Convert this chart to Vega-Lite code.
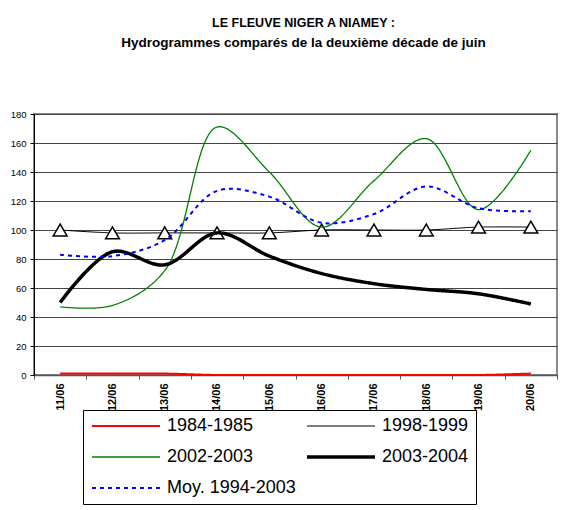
{
  "$schema": "https://vega.github.io/schema/vega-lite/v6.json",
  "autosize": {"type": "none"},
  "width": 523,
  "height": 261,
  "padding": {"left": 34, "top": 114, "right": 23, "bottom": 135},
  "background": "white",
  "title": {
    "text": "LE FLEUVE NIGER A NIAMEY :",
    "subtitle": "Hydrogrammes comparés de la deuxième décade de juin",
    "anchor": "middle",
    "dx": 8,
    "offset": 60,
    "font": "Liberation Sans",
    "fontSize": 12.5,
    "fontWeight": "bold",
    "color": "#000",
    "subtitleFont": "Liberation Sans",
    "subtitleFontSize": 13.5,
    "subtitleFontWeight": "bold",
    "subtitleColor": "#000",
    "subtitlePadding": 6
  },
  "data": {
    "values": [
      {"day": 1, "series": "1984-1985", "value": 1},
      {"day": 2, "series": "1984-1985", "value": 1},
      {"day": 3, "series": "1984-1985", "value": 1},
      {"day": 4, "series": "1984-1985", "value": 0},
      {"day": 5, "series": "1984-1985", "value": 0},
      {"day": 6, "series": "1984-1985", "value": 0},
      {"day": 7, "series": "1984-1985", "value": 0},
      {"day": 8, "series": "1984-1985", "value": 0},
      {"day": 9, "series": "1984-1985", "value": 0},
      {"day": 10, "series": "1984-1985", "value": 1},
      {"day": 1, "series": "1998-1999", "value": 100},
      {"day": 2, "series": "1998-1999", "value": 98},
      {"day": 3, "series": "1998-1999", "value": 98},
      {"day": 4, "series": "1998-1999", "value": 98},
      {"day": 5, "series": "1998-1999", "value": 98},
      {"day": 6, "series": "1998-1999", "value": 100},
      {"day": 7, "series": "1998-1999", "value": 100},
      {"day": 8, "series": "1998-1999", "value": 100},
      {"day": 9, "series": "1998-1999", "value": 102},
      {"day": 10, "series": "1998-1999", "value": 102},
      {"day": 1, "series": "2002-2003", "value": 47},
      {"day": 2, "series": "2002-2003", "value": 48},
      {"day": 3, "series": "2002-2003", "value": 72},
      {"day": 4, "series": "2002-2003", "value": 171},
      {"day": 5, "series": "2002-2003", "value": 140},
      {"day": 6, "series": "2002-2003", "value": 102},
      {"day": 7, "series": "2002-2003", "value": 134},
      {"day": 8, "series": "2002-2003", "value": 163},
      {"day": 9, "series": "2002-2003", "value": 114},
      {"day": 10, "series": "2002-2003", "value": 155},
      {"day": 1, "series": "2003-2004", "value": 50},
      {"day": 2, "series": "2003-2004", "value": 85},
      {"day": 3, "series": "2003-2004", "value": 76},
      {"day": 4, "series": "2003-2004", "value": 98},
      {"day": 5, "series": "2003-2004", "value": 82},
      {"day": 6, "series": "2003-2004", "value": 70},
      {"day": 7, "series": "2003-2004", "value": 63},
      {"day": 8, "series": "2003-2004", "value": 59},
      {"day": 9, "series": "2003-2004", "value": 56},
      {"day": 10, "series": "2003-2004", "value": 49},
      {"day": 1, "series": "Moy. 1994-2003", "value": 83},
      {"day": 2, "series": "Moy. 1994-2003", "value": 82},
      {"day": 3, "series": "Moy. 1994-2003", "value": 93},
      {"day": 4, "series": "Moy. 1994-2003", "value": 127},
      {"day": 5, "series": "Moy. 1994-2003", "value": 123},
      {"day": 6, "series": "Moy. 1994-2003", "value": 105},
      {"day": 7, "series": "Moy. 1994-2003", "value": 111},
      {"day": 8, "series": "Moy. 1994-2003", "value": 130},
      {"day": 9, "series": "Moy. 1994-2003", "value": 115},
      {"day": 10, "series": "Moy. 1994-2003", "value": 113}
    ]
  },
  "encoding": {
    "x": {
      "field": "day",
      "type": "quantitative",
      "scale": {"domain": [0.5, 10.5], "nice": false, "zero": false},
      "axis": {
        "title": null,
        "values": [0.5, 1.5, 2.5, 3.5, 4.5, 5.5, 6.5, 7.5, 8.5, 9.5, 10.5],
        "labelExpr": "datum.value < 10 ? (datum.value + 10.5) + '/06' : ''",
        "labelOffset": 26,
        "labelAngle": 270,
        "labelAlign": "right",
        "labelBaseline": "middle",
        "labelFont": "Liberation Sans",
        "labelFontSize": 11,
        "labelFontWeight": "bold",
        "labelColor": "#000",
        "labelPadding": 4,
        "labelFlush": false,
        "labelOverlap": false,
        "grid": false,
        "domainColor": "#555",
        "domainWidth": 1.5,
        "tickColor": "#555",
        "tickSize": 4,
        "tickWidth": 1
      }
    },
    "y": {
      "field": "value",
      "type": "quantitative",
      "scale": {"domain": [0, 180], "nice": false},
      "axis": {
        "title": null,
        "values": [0, 20, 40, 60, 80, 100, 120, 140, 160, 180],
        "labelFont": "Liberation Sans",
        "labelFontSize": 9.5,
        "labelColor": "#000",
        "labelPadding": 4,
        "labelFlush": false,
        "grid": true,
        "gridColor": "#444",
        "gridWidth": 1,
        "domainColor": "#000",
        "domainWidth": 1,
        "tickColor": "#000",
        "tickSize": 4
      }
    },
    "color": {
      "field": "series",
      "type": "nominal",
      "scale": {
        "domain": ["1984-1985", "1998-1999", "2002-2003", "2003-2004", "Moy. 1994-2003"],
        "range": ["#ff0000", "#000000", "#008000", "#000000", "#0000ff"]
      },
      "legend": {
        "orient": "none",
        "legendX": 49,
        "legendY": 296,
        "direction": "horizontal",
        "columns": 2,
        "columnPadding": 9,
        "rowPadding": 13,
        "symbolSize": 4624,
        "symbolType": "stroke",
        "clipHeight": 18,
        "symbolOffset": 0,
        "labelFont": "Liberation Sans",
        "labelFontSize": 18,
        "labelColor": "#000",
        "labelOffset": 5,
        "labelLimit": 300,
        "padding": 7,
        "strokeColor": "#000",
        "fillColor": "#fff",
        "title": null
      }
    },
    "strokeDash": {
      "field": "series",
      "type": "nominal",
      "scale": {
        "domain": ["1984-1985", "1998-1999", "2002-2003", "2003-2004", "Moy. 1994-2003"],
        "range": [[1, 0], [1, 0], [1, 0], [1, 0], [4, 4]]
      },
      "legend": {"orient": "none", "legendX": 49, "legendY": 296, "direction": "horizontal", "columns": 2, "title": null}
    },
    "strokeWidth": {
      "field": "series",
      "type": "nominal",
      "scale": {
        "type": "ordinal",
        "domain": ["1984-1985", "1998-1999", "2002-2003", "2003-2004", "Moy. 1994-2003"],
        "range": [2, 1, 1.3, 3.5, 2]
      },
      "legend": {"orient": "none", "legendX": 49, "legendY": 296, "direction": "horizontal", "columns": 2, "title": null}
    }
  },
  "layer": [
    {
      "transform": [{"filter": "datum.series == '1984-1985' || datum.series == '1998-1999'"}],
      "mark": {"type": "line", "interpolate": "catmull-rom"}
    },
    {
      "transform": [{"filter": "datum.series == '1998-1999'"}],
      "mark": {"type": "point", "shape": "triangle-up", "filled": false, "fill": "white", "stroke": "black", "strokeWidth": 1.5, "size": 190, "opacity": 1},
      "encoding": {
        "color": null,
        "strokeDash": null,
        "strokeWidth": null
      }
    },
    {
      "transform": [{"filter": "datum.series != '1984-1985' && datum.series != '1998-1999'"}],
      "mark": {"type": "line", "interpolate": "catmull-rom"}
    }
  ],
  "config": {
    "view": {"stroke": "#888", "strokeWidth": 2},
    "font": "Liberation Sans"
  }
}
